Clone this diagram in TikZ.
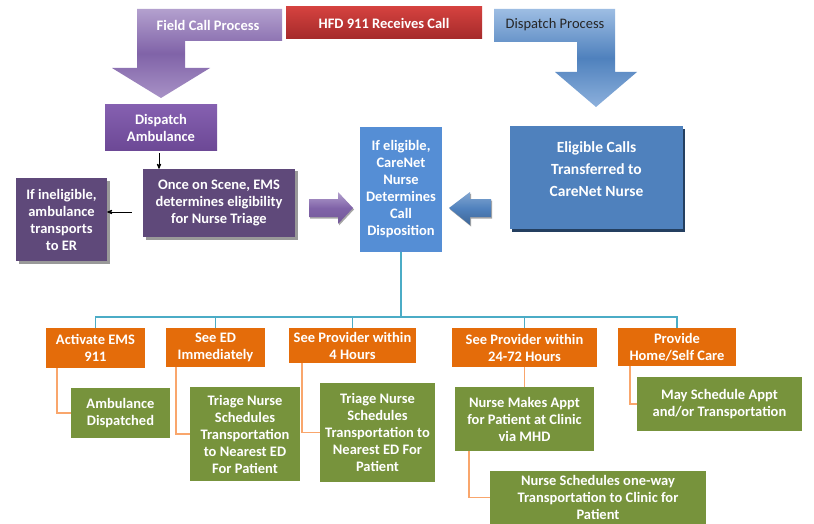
\documentclass[tikz,border=0pt]{standalone}
\usepackage{fontspec}
\setmainfont{Carlito}
\usetikzlibrary{positioning}
\usetikzlibrary{arrows}
\usetikzlibrary{calc}
\usetikzlibrary{shadows}
\definecolor{fieldtop}{HTML}{B3A0CE}
\definecolor{fieldmid}{HTML}{8063A8}
\definecolor{fieldbot}{HTML}{A892C6}
\definecolor{disptop}{HTML}{9DBDE3}
\definecolor{dispmid}{HTML}{4F81BD}
\definecolor{dispbot}{HTML}{8CB0DC}
\definecolor{hfdtop}{HTML}{D4423F}
\definecolor{hfdbot}{HTML}{A52A2A}
\definecolor{ambtop}{HTML}{8560B0}
\definecolor{ambbot}{HTML}{6C4895}
\definecolor{scenepurple}{HTML}{5F497A}
\definecolor{nurseblue}{HTML}{558ED5}
\definecolor{eligblue}{HTML}{4F81BD}
\definecolor{eligshadow}{HTML}{243F60}
\definecolor{treeteal}{HTML}{4BACC6}
\definecolor{ordorange}{HTML}{E46C0A}
\definecolor{actgreen}{HTML}{77933C}
\definecolor{peach}{HTML}{F9A66C}
\tikzset{>=stealth'}
\tikzset{box/.style={inner sep=0pt, align=center, text=white, font=\bfseries\fontsize{14.5}{17}\selectfont}}
\tikzset{orangebox/.style={box, fill=ordorange}}
\tikzset{greenbox/.style={box, fill=actgreen}}
\tikzset{scenebox/.style={box, fill=scenepurple, drop shadow={shadow xshift=2.5pt, shadow yshift=-2.5pt, fill=black!40, opacity=1}}}
\tikzset{tealline/.style={draw=treeteal, line width=1.2pt}}
\tikzset{peachline/.style={draw=peach, line width=1.5pt}}
\tikzset{arr/.style={->, line width=0.8pt}}

\begin{document}
\begin{tikzpicture}[x=1pt, y=-1pt]
        \fill[white] (0,0) rectangle (814,524);
        \useasboundingbox (0,0) rectangle (814,524);

        % bent arrows on top
        \shade[top color=fieldtop, bottom color=fieldbot, middle color=fieldmid]
          (137,9) -- (282,9) -- (282,41) -- (185,41) -- (185,68) -- (210,68)
          -- (161,98) -- (112,68) -- (137,68) -- cycle;
        \node[box] (field) at (208,25) {Field Call Process};

        \shade[top color=disptop, bottom color=dispbot, middle color=dispmid]
          (494,9) -- (615,9) -- (615,72) -- (637,72) -- (596,107) -- (555,72)
          -- (577,72) -- (577,42) -- (494,42) -- cycle;
        \node[box, text=black!85, font=\fontsize{14.5}{17}\selectfont] (disp) at (555,25) {Dispatch Process};

        \node[box, top color=hfdtop, bottom color=hfdbot, minimum width=196pt, minimum height=32pt] (hfd) at (384,23) {HFD 911 Receives Call};

        % field side
        \node[box, top color=ambtop, bottom color=ambbot, minimum width=112pt, minimum height=46pt] (amb) at (161,128) {Dispatch\\Ambulance};
        \node[scenebox, minimum width=152pt, minimum height=68pt] (scene) at (219,203) {Once on Scene, EMS\\determines eligibility\\for Nurse Triage};
        \node[scenebox, minimum width=91pt, minimum height=83pt] (inelig) at (61.5,219.5) {If ineligible,\\ambulance\\transports\\to ER};

        \draw[arr] ([xshift=-2pt,yshift=-2pt]amb.south) -- ([xshift=-2pt]amb.south |- scene.north);
        \draw[arr] ([xshift=-11pt,yshift=-9pt]scene.west) -- ([yshift=-9pt]scene.west -| inelig.east);

        % nurse and dispatch side
        \node[box, fill=nurseblue, minimum width=82pt, minimum height=125pt] (nurse) at (401,189.5) {If eligible,\\CareNet\\Nurse\\Determines\\Call\\Disposition};
        \node[box, fill=eligblue, font=\bfseries\fontsize{15.5}{22}\selectfont, minimum width=173pt, minimum height=103pt,
              drop shadow={shadow xshift=1.5pt, shadow yshift=-3pt, fill=eligshadow, opacity=1}] (elig) at (596.5,177.5)
              {Eligible Calls\\Transferred to\\CareNet Nurse\\[-5pt]\mbox{}};

        \shade[top color=fieldtop, bottom color=fieldmid!90!black, middle color=fieldmid, drop shadow={shadow xshift=1pt, shadow yshift=-1.5pt, fill=black!35, opacity=1}]
          (309,199) -- (338,199) -- (338,192) -- (353,208) -- (338,224) -- (338,217) -- (309,217) -- cycle;
        \shade[top color=dispmid!70, bottom color=dispmid!80!black, middle color=dispmid, drop shadow={shadow xshift=1pt, shadow yshift=-1.5pt, fill=black!35, opacity=1}]
          (491,199) -- (470,199) -- (470,192) -- (449,208) -- (470,225) -- (470,217) -- (491,217) -- cycle;

        % dispositions
        \node[orangebox, minimum width=99pt, minimum height=40pt] (act) at (95.5,348) {Activate EMS\\911};
        \node[orangebox, minimum width=99pt, minimum height=39pt] (seeed) at (215.5,347.5) {See ED\\Immediately};
        \node[orangebox, minimum width=127pt, minimum height=35pt] (prov4) at (352.5,345.5) {See Provider within\\4 Hours};
        \node[orangebox, minimum width=145pt, minimum height=39pt] (prov24) at (524.5,347.5) {See Provider within\\24-72 Hours};
        \node[orangebox, minimum width=118pt, minimum height=38pt] (home) at (677,347) {Provide\\Home/Self Care};

        \node[greenbox, minimum width=99pt, minimum height=50pt] (ambdisp) at (120.5,413) {Ambulance\\Dispatched};
        \node[greenbox, minimum width=110pt, minimum height=94pt] (triage1) at (245,434) {Triage Nurse\\Schedules\\Transportation\\to Nearest ED\\For Patient};
        \node[greenbox, minimum width=115pt, minimum height=99pt] (triage2) at (377.5,432.5) {Triage Nurse\\Schedules\\Transportation to\\Nearest ED For\\Patient};
        \node[greenbox, minimum width=139pt, minimum height=64pt] (makeappt) at (524.5,419) {Nurse Makes Appt\\for Patient at Clinic\\via MHD};
        \node[greenbox, minimum width=216pt, minimum height=53pt] (oneway) at (598,497.5) {Nurse Schedules one-way\\Transportation to Clinic for\\Patient};
        \node[greenbox, minimum width=165pt, minimum height=54pt] (maysched) at (719.5,404) {May Schedule Appt\\and/or Transportation};

        % tree
        \coordinate (busy) at (0,317);
        \draw[tealline] (nurse.south) -- (nurse.south |- busy);
        \draw[tealline] (act.north) -- (act.north |- busy) -- (home.north |- busy) -- (home.north);
        \foreach \b in {seeed, prov4, prov24}
          \draw[tealline] (\b.north) -- (\b.north |- busy);

        \draw[peachline] ([xshift=11pt]act.south west) |- (ambdisp.west);
        \draw[peachline] ([xshift=10pt]seeed.south west) |- (triage1.west);
        \draw[peachline] ([xshift=13pt]prov4.south west) |- (triage2.west);
        \draw[peachline] (prov24.south) -- (makeappt.north);
        \draw[peachline] ([xshift=14pt]makeappt.south west) |- (oneway.west);
        \draw[peachline] ([xshift=12pt]home.south west) |- (maysched.west);
    \end{tikzpicture}
\end{document}
